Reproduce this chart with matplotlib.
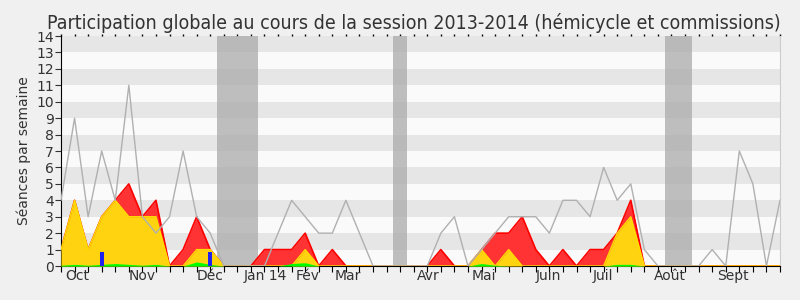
import numpy as np
import matplotlib
matplotlib.use("Agg")
import matplotlib.pyplot as plt

# weekly values, session 2013-2014 (54 weeks)
total_seances = [4, 9, 3, 7, 4, 11, 3, 2, 3, 7, 3, 2, 0, 0, 0, 0, 2, 4, 3, 2,
                 2, 4, 2, 0, 0, 0, 0, 0, 2, 3, 0, 1, 2, 3, 3, 3, 2, 4, 4, 3,
                 6, 4, 5, 1, 0, 0, 0, 0, 1, 0, 7, 5, 0, 4]
commissions = [1, 4, 1, 3, 4, 5, 3, 4, 0, 1, 3, 1, 0, 0, 0, 1, 1, 1, 2, 0,
               1, 0, 0, 0, 0, 0, 0, 0, 1, 0, 0, 1, 2, 2, 3, 1, 0, 1, 0, 1,
               1, 2, 4, 0, 0, 0, 0, 0, 0, 0, 0, 0, 0, 0]
hemicycle = [1, 4, 1, 3, 4, 3, 3, 3, 0, 0, 1, 1, 0, 0, 0, 0, 0, 0, 1, 0,
             0, 0, 0, 0, 0, 0, 0, 0, 0, 0, 0, 1, 0, 1, 0, 0, 0, 0, 0, 0,
             0, 2, 3, 0, 0, 0, 0, 0, 0, 0, 0, 0, 0, 0]
interventions = [0.05, 0.1, 0.05, 0.1, 0.15, 0.1, 0.05, 0.1, 0, 0, 0.25, 0.1, 0, 0,
                 0, 0, 0, 0.15, 0.2, 0, 0, 0, 0, 0, 0, 0, 0, 0, 0, 0, 0, 0.15,
                 0.05, 0, 0, 0, 0, 0, 0, 0, 0, 0.1, 0.1, 0, 0, 0, 0, 0, 0, 0,
                 0, 0, 0, 0]
questions_weeks = [3, 11]
questions = [0.87, 0.87]

vacances = [(11.5, 14.5), (24.5, 25.5), (44.5, 46.5)]

month_labels = ["Oct", "Nov", "Déc", "Jan 14", "Fév", "Mar", "Avr", "Mai",
                "Juin", "Juil", "Août", "Sept"]
month_pos = [1.2, 5.97, 10.98, 15.05, 18.15, 21.15, 27.05, 31.15, 35.95, 39.95,
             44.9, 49.5]

weeks = np.arange(len(total_seances))

fig = plt.figure(figsize=(8, 3), dpi=100, facecolor="#f0f0f0")
ax = fig.add_axes([0.07625, 0.1133, 0.89875, 0.7667])
ax.set_facecolor("#fafafa")

# horizontal stripes
for y in range(1, 14, 2):
    ax.axhspan(y, y + 1, color="#e6e6e6", lw=0, zorder=0)

# holidays
for a, b in vacances:
    ax.axvspan(a, b, color="#aaaaaa", alpha=0.75, lw=0, zorder=1)

ax.fill_between(weeks, commissions, color="#ff3333", lw=0, zorder=2)
ax.plot(weeks, commissions, color="#ff0000", lw=1.2, zorder=2.5)
ax.fill_between(weeks, hemicycle, color="#ffd30f", lw=0, zorder=3)
ax.plot(weeks, hemicycle, color="#ffdd00", lw=1, zorder=3.5)
ax.fill_between(weeks, interventions, color="#00ff00", lw=0, zorder=4)
ax.bar(questions_weeks, questions, width=0.3, color="#2222ee", zorder=5)
ax.plot(weeks, total_seances, color="#b0b0b0", lw=1, zorder=6)

ax.set_xlim(0, len(weeks) - 1)
ax.set_ylim(0, 14)
ax.set_yticks(range(0, 15))
ax.xaxis.remove_overlapping_locs = False
ax.set_xticks(weeks)
ax.set_xticklabels([])
ax.set_xticks(month_pos, minor=True)
ax.set_xticklabels(month_labels, minor=True)
ax.tick_params(axis="x", which="minor", length=0, labelsize=10, pad=2, colors="#333333")
ax.tick_params(axis="x", which="major", length=4, direction="out")
ax.tick_params(axis="y", length=4, labelsize=10, pad=1, colors="#333333")

# little dots along the top edge
top = ax.secondary_xaxis("top")
top.set_xticks(weeks)
top.set_xticklabels([])
top.tick_params(length=1.5, width=1, direction="out")
top.spines["top"].set_visible(False)

ax.spines["top"].set_visible(False)
ax.spines["right"].set_color("#cccccc")

ax.set_ylabel("Séances par semaine", fontsize=10, color="#333333", labelpad=4)
ax.set_title("Participation globale au cours de la session 2013-2014 (hémicycle et commissions)",
             fontsize=14, color="#333333", pad=5, fontstretch="condensed", x=0.491)

fig.savefig("out.png", dpi=100, facecolor=fig.get_facecolor())
